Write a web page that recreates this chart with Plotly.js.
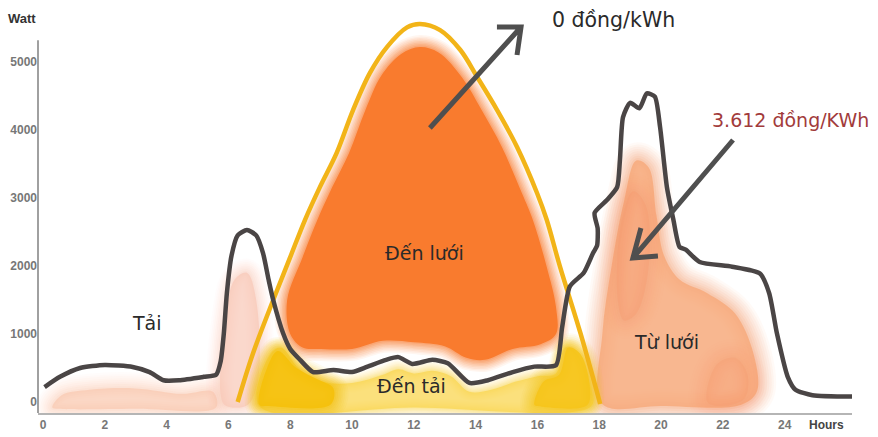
<!DOCTYPE html>
<html><head><meta charset="utf-8">
<script src="https://cdn.plot.ly/plotly-3.0.1.min.js"></script>
<style>html,body{margin:0;padding:0;background:#fff}</style>
</head><body><div id="chart" style="width:878px;height:437px"></div>
<script>
// ---- load curve (Tải) ----
const loadHours = [0.05,0.55,1.2,2.0,2.9,3.45,3.9,4.4,5.2,5.6,5.75,5.85,5.95,6.1,6.3,6.6,6.9,7.12,7.3,7.45,7.77,8.0,8.32,8.74,9.4,10.0,10.5,11.1,11.5,11.95,12.6,13.1,13.8,14.4,15.2,15.9,16.6,16.8,17.05,17.5,17.8,17.93,17.95,17.85,18.25,18.58,18.67,18.77,19.0,19.3,19.54,19.8,19.97,20.19,20.4,20.6,20.8,21.25,22.3,23.2,23.5,23.75,24.1,24.35,24.9,26.2];
const loadWatts = [220,370,500,545,515,440,320,320,370,400,600,1000,1600,2150,2450,2530,2450,2190,1800,1500,1010,780,620,440,470,440,520,620,660,560,620,570,280,320,440,520,540,1100,1700,1900,2190,2300,2550,2780,2970,3160,3560,4190,4400,4320,4540,4490,4040,3160,2680,2280,2240,2060,1990,1890,1600,1010,370,180,100,80];
// ---- solar curve ----
const solarHours = [6.3,6.8,7.45,8.0,8.48,8.96,9.5,10.03,10.58,11.13,11.78,12.2,12.85,13.5,14.05,14.7,15.34,15.99,16.3,16.73,17.4,18.03];
const solarWatts = [0,720,1500,2130,2680,3160,3660,4290,4840,5220,5510,5560,5470,5180,4780,4290,3750,3070,2680,1990,1000,-30];
// ---- axis ticks ----
const xTickVals = [0,2,4,6,8,10,12,14,16,18,20,22,24];
const xTickText = ['0','2','4','6','8','10','12','14','16','18','20','22','24'];
const yTickVals = [0,1000,2000,3000,4000,5000];
const yTickText = ['0','1000','2000','3000','4000','5000'];
// ---- shaded regions (outlines) ----
const orangeHours = [8.0,7.9,8.4,8.88,9.36,9.9,10.43,10.95,11.6,12.2,12.8,13.55,14.2,14.85,15.5,15.85,16.3,16.6,16.6,16.1,15.2,14.3,13.7,13.0,12.0,11.0,10.0,9.0,8.4];
const orangeWatts = [1000,1500,2130,2680,3160,3660,4290,4800,5120,5220,5140,4780,4290,3750,3070,2680,1990,1400,1000,850,780,620,650,820,880,900,780,780,800];
const yellowPaleHours = [7.0,7.35,7.7,8.3,9.0,10.0,11.0,11.5,12.0,12.6,13.2,13.8,14.5,15.3,16.0,16.6,16.9,17.3,17.7,17.75,12.0];
const yellowPaleWatts = [-60,700,800,480,300,280,400,480,420,460,380,150,180,300,380,420,800,700,250,-60,-80];
const yellowLeftHours = [7.0,7.25,7.6,8.2,8.9,9.4,9.3,7.3];
const yellowLeftWatts = [-40,500,750,500,330,200,-40,-60];
const yellowRightHours = [15.9,16.2,16.7,17.0,17.4,17.7,17.6,16.0];
const yellowRightWatts = [-40,300,400,800,700,200,-50,-60];
const gridPeachHours = [18.1,18.1,18.4,18.8,19.2,19.6,19.85,20.1,20.6,21.5,22.4,23.0,23.1,22.6,20.0];
const gridPeachWatts = [-30,1000,2000,2950,3550,3450,2750,2150,1800,1600,1300,700,150,-40,-60];
const spotAHours = [18.6,18.7,19.1,19.5,19.6,19.2,18.8];
const spotAWatts = [1500,2600,3100,2900,2000,1300,1200];
const spotBHours = [21.5,21.8,22.4,22.8,22.7,22.0];
const spotBWatts = [0,550,650,400,50,-60];
const leftPeachHours = [0.3,0.6,1.5,3.0,4.5,5.5,5.6,3.0,0.5];
const leftPeachWatts = [-80,100,180,200,120,150,-80,-100,-100];
const spikePeachHours = [5.75,5.9,6.2,6.6,6.9,6.95,6.6,5.9];
const spikePeachWatts = [100,1200,1800,1900,1500,300,-50,-50];

function softRegion(hs, ws, rgb, alpha, spread) {
  const xs = hs.concat([hs[0]]), ys = ws.concat([ws[0]]);
  const out = [];
  const widths = [1,0.87,0.75,0.62,0.5,0.37,0.25,0.12];
  const alphas = [0.07,0.08,0.09,0.1,0.12,0.14,0.17,0.22];
  widths.forEach(function(w,i){
    out.push({x:xs,y:ys,mode:'lines',line:{color:'rgba('+rgb+','+(alphas[i]*alpha)+')',width:spread*2*w,shape:'spline',smoothing:1},hoverinfo:'skip',showlegend:false});
  });
  out.push({x:xs,y:ys,mode:'lines',fill:'toself',fillcolor:'rgba('+rgb+','+alpha+')',line:{width:0,shape:'spline',smoothing:1},hoverinfo:'skip',showlegend:false});
  return out;
}

let traces = [];
traces = traces.concat(softRegion(leftPeachHours,leftPeachWatts,'248,196,170',0.6,16));
traces = traces.concat(softRegion(spikePeachHours,spikePeachWatts,'248,200,182',0.7,14));
traces = traces.concat(softRegion(gridPeachHours,gridPeachWatts,'247,170,125',0.85,18));
traces = traces.concat(softRegion(spotAHours,spotAWatts,'244,150,105',0.3,18));
traces = traces.concat(softRegion(spotBHours,spotBWatts,'244,145,100',0.22,18));
traces = traces.concat(softRegion(yellowPaleHours,yellowPaleWatts,'249,214,80',0.75,10));
traces = traces.concat(softRegion(yellowLeftHours,yellowLeftWatts,'245,192,10',0.9,14));
traces = traces.concat(softRegion(yellowRightHours,yellowRightWatts,'246,196,25',0.9,14));
traces = traces.concat(softRegion(orangeHours,orangeWatts,'249,123,46',1.0,12));

traces.push({x:solarHours,y:solarWatts,mode:'lines',line:{color:'#F2B418',width:4.5,shape:'spline',smoothing:1},hoverinfo:'skip',showlegend:false,name:'Solar'});
traces.push({x:loadHours,y:loadWatts,mode:'lines',line:{color:'#4a4545',width:4.5,shape:'spline',smoothing:0.6},hoverinfo:'skip',showlegend:false,name:'Tải'});

const tickFont = {family:'Liberation Sans, Arial, sans-serif', size:12, color:'#777777', weight:'bold'};
const labelFont = {family:'DejaVu Sans, sans-serif', size:19, color:'#2a2a2a'};

const layout = {
  width:878, height:437,
  margin:{l:38,r:26,t:10,b:24},
  paper_bgcolor:'#ffffff', plot_bgcolor:'#ffffff',
  showlegend:false, hovermode:false,
  xaxis:{range:[-0.162,26.18], showgrid:false, zeroline:false, showline:true, linecolor:'#b5b5b5', linewidth:2,
         tickmode:'array', tickvals:xTickVals, ticktext:xTickText, ticks:'', tickfont:tickFont, fixedrange:true},
  yaxis:{range:[-162,5765], showgrid:false, zeroline:false, showline:false,
         tickmode:'array', tickvals:yTickVals, ticktext:yTickText, ticks:'', tickfont:tickFont, fixedrange:true},
  shapes:[
    {type:'line', xref:'paper', yref:'y', x0:0, x1:0, y0:-162, y1:5320, line:{color:'#a0a0a0', width:2}},
    {type:'path', xref:'x', yref:'y', path:'M12.52,4029 L15.47,5515 M14.69,5515 L15.47,5515 L15.34,5103', line:{color:'#4f4f4f', width:5}},
    {type:'path', xref:'x', yref:'y', path:'M22.33,3853 L19.09,2118 M19.35,2559 L19.09,2118 L19.90,2147', line:{color:'#4f4f4f', width:5}}
  ],
  annotations:[
    {xref:'paper', yref:'paper', x:-0.0197, y:0.98, xanchor:'center', yanchor:'middle', text:'<b>Watt</b>', showarrow:false, font:{family:'Liberation Sans, Arial, sans-serif', size:13, color:'#333'}},
    {xref:'paper', yref:'paper', x:0.969, y:-0.03, xanchor:'center', yanchor:'middle', text:'<b>Hours</b>', showarrow:false, font:{family:'Liberation Sans, Arial, sans-serif', size:12, color:'#444'}},
    {x:16.41, y:5618, xanchor:'left', text:'0 đồng/kWh', showarrow:false, font:{family:'DejaVu Sans, sans-serif', size:20.5, color:'#2a2a2a'}},
    {x:21.6, y:4147, xanchor:'left', text:'3.612 đồng/KWh', showarrow:false, font:{family:'DejaVu Sans, sans-serif', size:19, color:'#a23b3b'}},
    {x:12.36, y:2191, text:'Đến lưới', showarrow:false, font:labelFont},
    {x:11.91, y:235, text:'Đến tải', showarrow:false, font:labelFont},
    {x:3.37, y:1162, text:'Tải', showarrow:false, font:labelFont},
    {x:20.19, y:882, text:'Từ lưới', showarrow:false, font:labelFont}
  ]
};
Plotly.newPlot('chart', traces, layout, {displayModeBar:false, staticPlot:true});
</script></body></html>
